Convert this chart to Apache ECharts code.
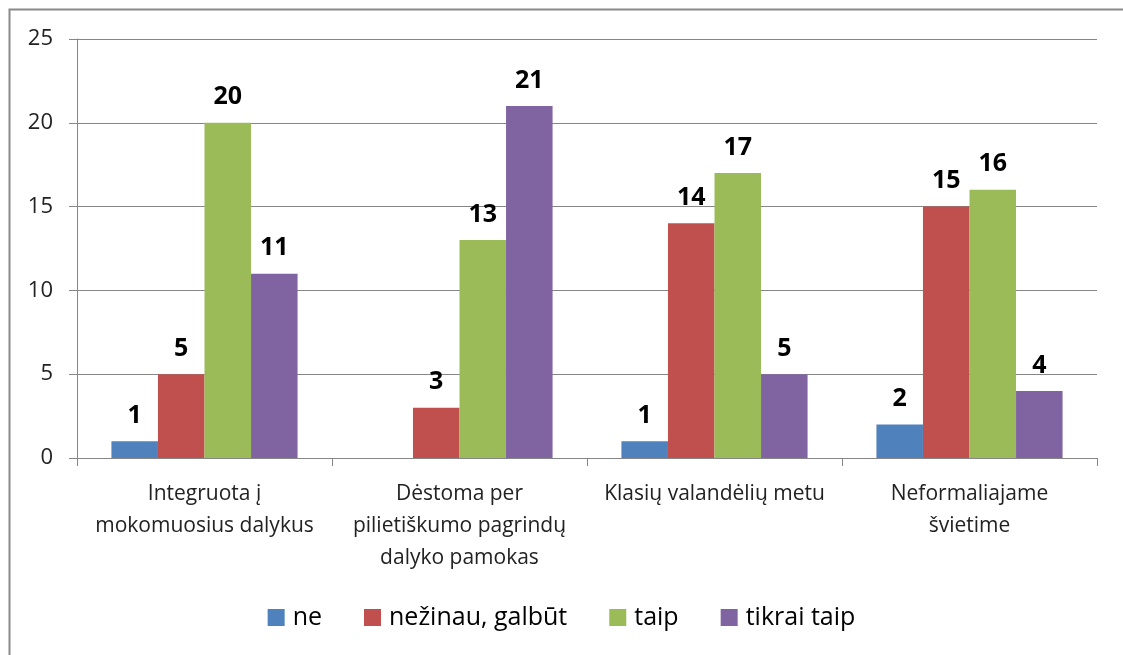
<!DOCTYPE html>
<html>
<head>
<meta charset="utf-8">
<script src="https://cdn.jsdelivr.net/npm/echarts@6/dist/echarts.min.js"></script>
<style>
  html, body { margin: 0; padding: 0; background: #fff; }
  #chart { width: 1123px; height: 655px; }
</style>
</head>
<body>
<div id="chart"></div>
<script>
// categories and series values
const categories = [
  'Integruota į\nmokomuosius dalykus',
  'Dėstoma per\npilietiškumo pagrindų\ndalyko pamokas',
  'Klasių valandėlių metu',
  'Neformaliajame\nšvietime'
]
const seriesNames = ['ne', 'nežinau, galbūt', 'taip', 'tikrai taip']
const ne = [1, null, 1, 2]
const nezinau = [5, 3, 14, 15]
const taip = [20, 13, 17, 16]
const tikraiTaip = [11, 21, 5, 4]

const colorArr = ['#4F81BD', '#C0504D', '#9BBB59', '#8064A2']
const fontFamily = '"Open Sans", "Noto Sans", sans-serif'

const chart = echarts.init(document.getElementById('chart'))

function barSeries(name, data) {
  return {
    name: name,
    type: 'bar',
    data: data,
    barGap: '0%',
    barCategoryGap: '27%',
    label: {
      show: true,
      position: 'top',
      distance: 13,
      color: '#000',
      fontWeight: 'bold',
      fontSize: 25,
      fontFamily: fontFamily
    },
    animation: false
  }
}

chart.setOption({
  color: colorArr,
  textStyle: { fontFamily: fontFamily },
  graphic: [{
    type: 'rect',
    shape: { x: 9.5, y: 9.5, width: 1200, height: 700 },
    style: { fill: 'none', stroke: '#8a8a8a', lineWidth: 2 },
    silent: true
  }],
  grid: {
    left: 77,
    right: 26,
    top: 39,
    bottom: 197
  },
  legend: {
    top: 600,
    left: 'center',
    itemWidth: 17,
    itemHeight: 17,
    itemGap: 42,
    icon: 'rect',
    textStyle: { fontSize: 25, color: '#000', fontFamily: fontFamily, padding: [0, 0, 0, 3] },
    data: seriesNames
  },
  xAxis: {
    type: 'category',
    data: categories,
    axisLine: { lineStyle: { color: '#868686', width: 1 } },
    axisTick: { show: true, length: 8, lineStyle: { color: '#868686' } },
    axisLabel: {
      interval: 0,
      margin: 20,
      fontSize: 21,
      lineHeight: 32,
      color: '#222',
      fontFamily: fontFamily
    }
  },
  yAxis: {
    type: 'value',
    min: 0,
    max: 25,
    interval: 5,
    axisLine: { show: true, lineStyle: { color: '#868686', width: 1 } },
    axisTick: { show: true, length: 8, lineStyle: { color: '#868686' } },
    splitLine: { lineStyle: { color: '#868686', width: 1 } },
    axisLabel: {
      margin: 24,
      fontSize: 22,
      color: '#222',
      fontFamily: fontFamily
    }
  },
  series: [
    barSeries(seriesNames[0], ne),
    barSeries(seriesNames[1], nezinau),
    barSeries(seriesNames[2], taip),
    barSeries(seriesNames[3], tikraiTaip)
  ]
})
</script>
</body>
</html>
